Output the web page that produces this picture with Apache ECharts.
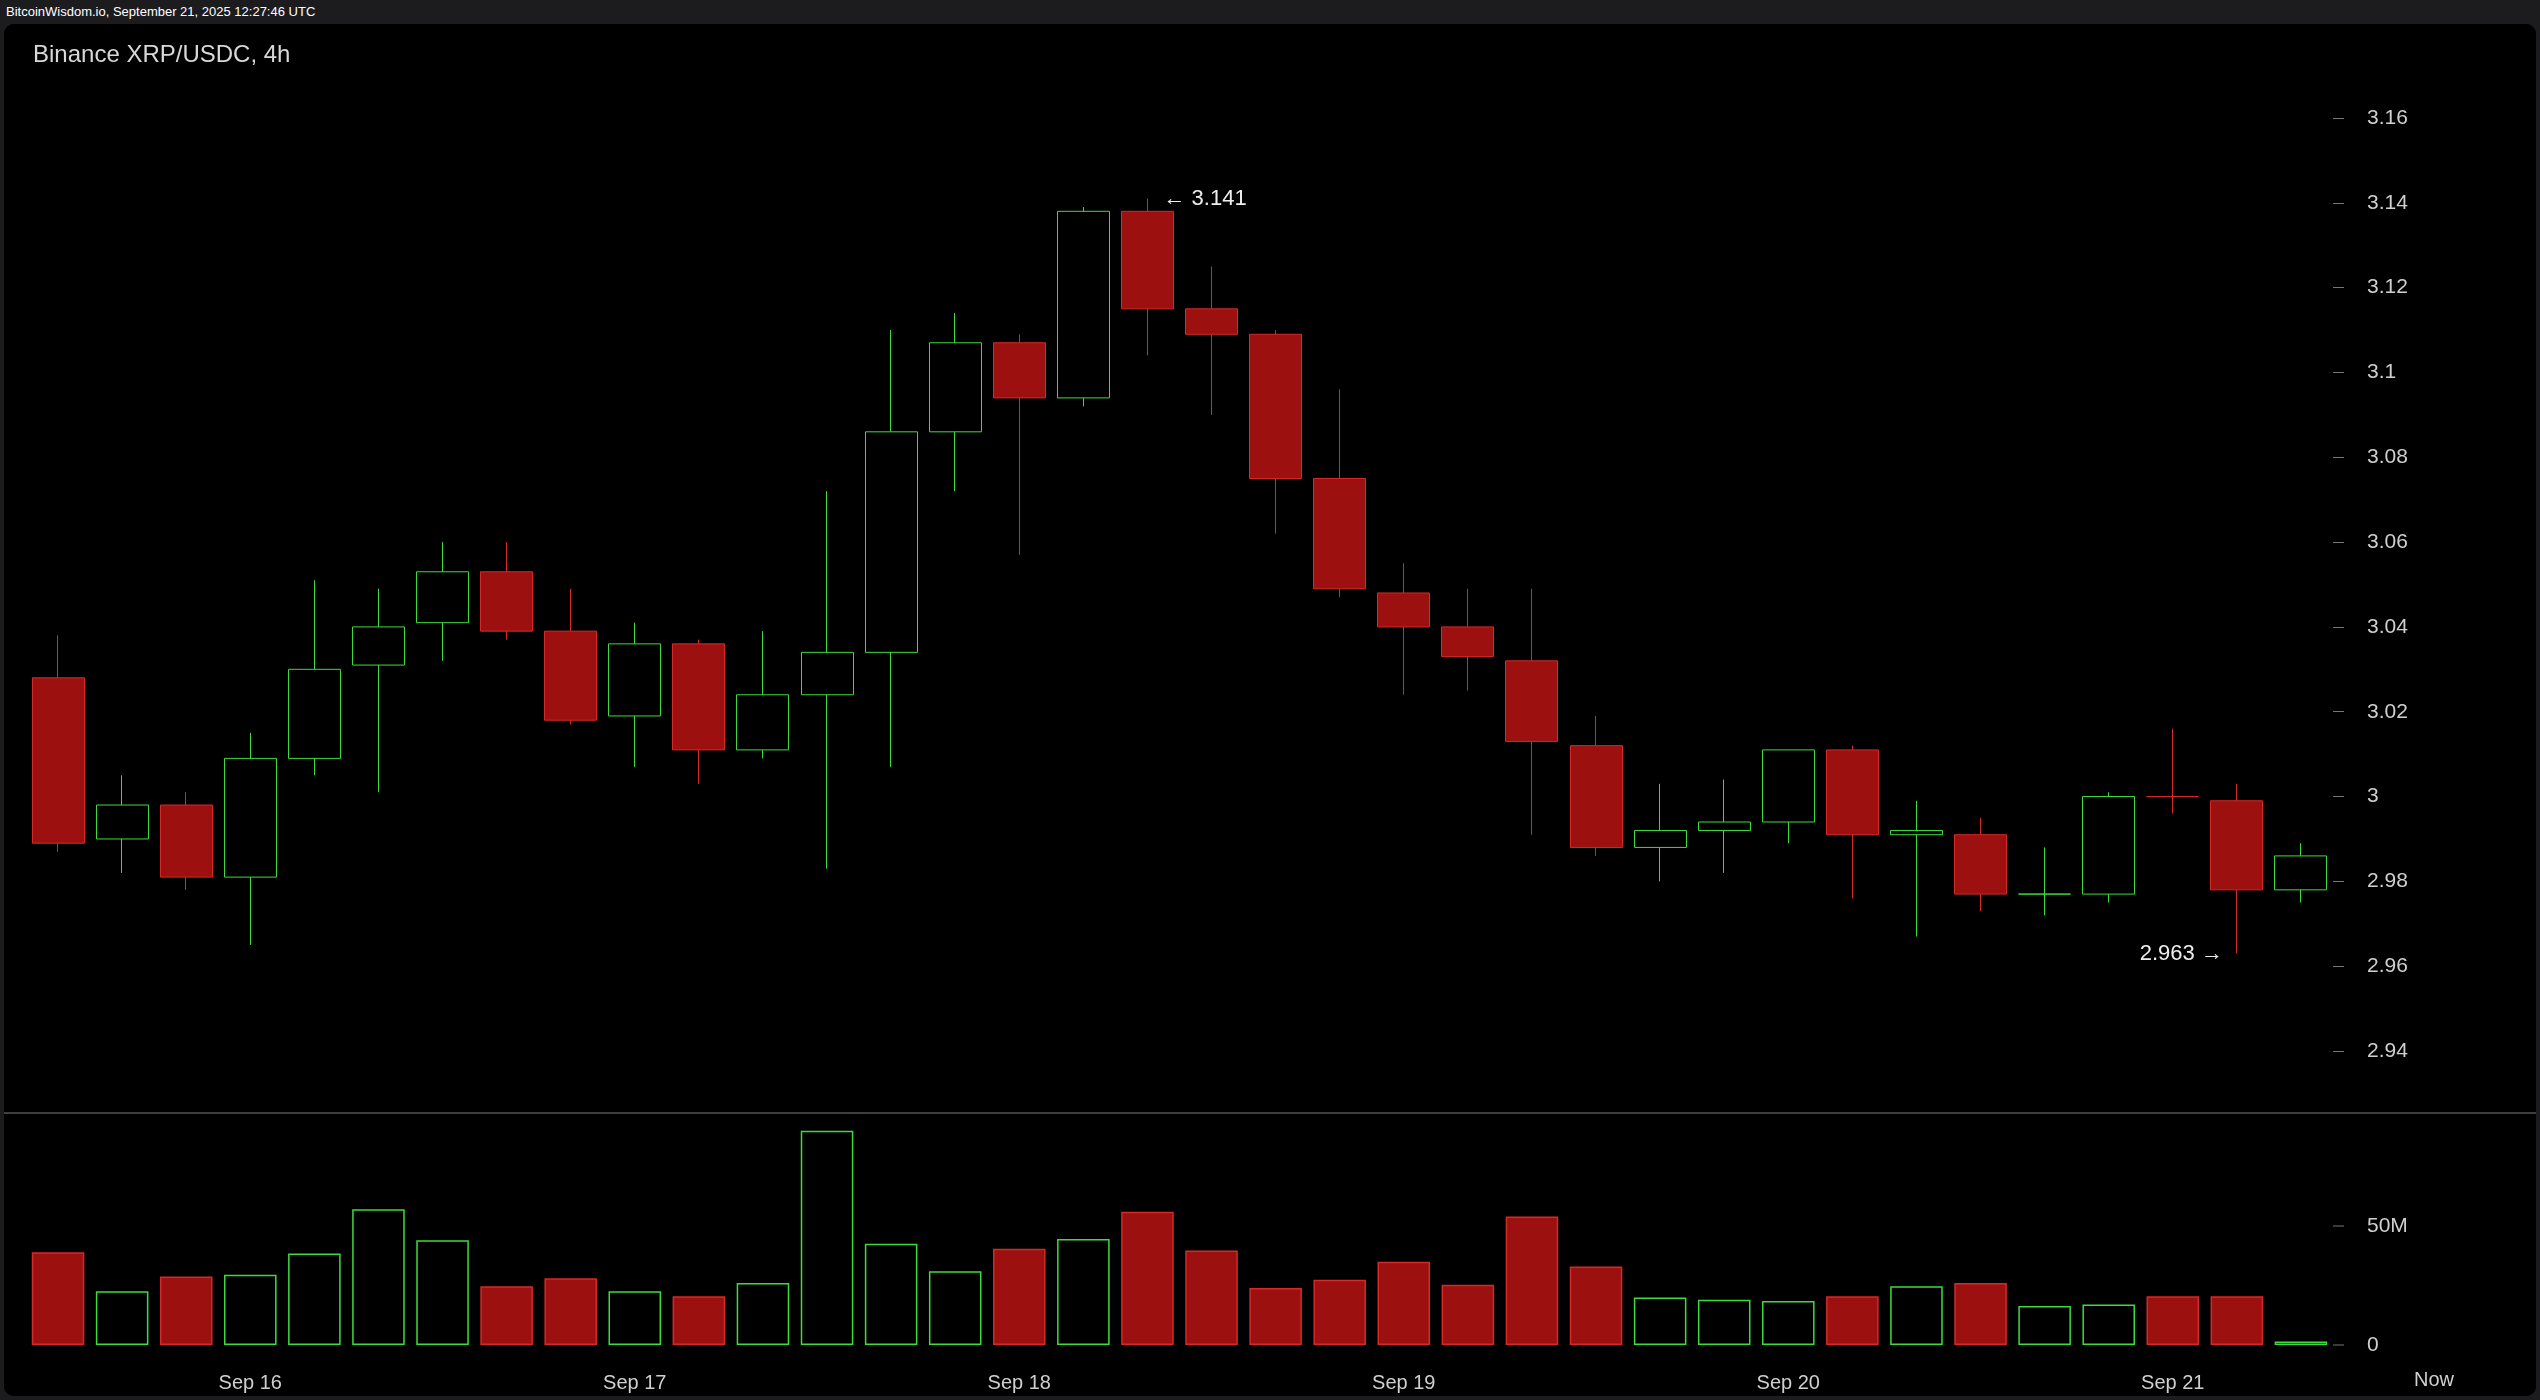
<!DOCTYPE html>
<html><head><meta charset="utf-8">
<script src="https://cdn.jsdelivr.net/npm/echarts@6/dist/echarts.min.js"></script>
<style>
html,body{margin:0;padding:0;background:#1c1c1e;width:2540px;height:1400px;overflow:hidden;font-family:"Liberation Sans",Arial,sans-serif}
#top{position:absolute;left:6px;top:4px;color:#fff;font-size:13px}
#c{position:absolute;left:4px;top:24px;width:2532px;height:1372px;background:#000;border-radius:10px;overflow:hidden}
</style></head><body>
<div id="top">BitcoinWisdom.io, September 21, 2025 12:27:46 UTC</div>
<div id="c"></div>
<script>
const categories = ['09-15 12:00','09-15 16:00','09-15 20:00','09-16 00:00','09-16 04:00','09-16 08:00','09-16 12:00','09-16 16:00','09-16 20:00','09-17 00:00','09-17 04:00','09-17 08:00','09-17 12:00','09-17 16:00','09-17 20:00','09-18 00:00','09-18 04:00','09-18 08:00','09-18 12:00','09-18 16:00','09-18 20:00','09-19 00:00','09-19 04:00','09-19 08:00','09-19 12:00','09-19 16:00','09-19 20:00','09-20 00:00','09-20 04:00','09-20 08:00','09-20 12:00','09-20 16:00','09-20 20:00','09-21 00:00','09-21 04:00','09-21 08:00'];
const dayLabels = {3:'Sep 16',9:'Sep 17',15:'Sep 18',21:'Sep 19',27:'Sep 20',33:'Sep 21'};
const openP  = [3.028,2.990,2.998,2.981,3.009,3.031,3.041,3.053,3.039,3.019,3.036,3.011,3.024,3.034,3.086,3.107,3.094,3.138,3.115,3.109,3.075,3.048,3.040,3.032,3.012,2.988,2.992,2.994,3.011,2.991,2.991,2.977,2.977,3.000,2.999,2.978];
const highP  = [3.038,3.005,3.001,3.015,3.051,3.049,3.060,3.060,3.049,3.041,3.037,3.039,3.072,3.110,3.114,3.109,3.139,3.141,3.125,3.110,3.096,3.055,3.049,3.049,3.019,3.003,3.004,3.011,3.012,2.999,2.995,2.988,3.001,3.016,3.003,2.989];
const lowP   = [2.987,2.982,2.978,2.965,3.005,3.001,3.032,3.037,3.017,3.007,3.003,3.009,2.983,3.007,3.072,3.057,3.092,3.104,3.090,3.062,3.047,3.024,3.025,2.991,2.986,2.980,2.982,2.989,2.976,2.967,2.973,2.972,2.975,2.996,2.963,2.975];
const closeP = [2.989,2.998,2.981,3.009,3.030,3.040,3.053,3.039,3.018,3.036,3.011,3.024,3.034,3.086,3.107,3.094,3.138,3.115,3.109,3.075,3.049,3.040,3.033,3.013,2.988,2.992,2.994,3.011,2.991,2.992,2.977,2.977,3.000,3.000,2.978,2.986];
const volumeM = [39,22.6,28.8,29.5,38.4,57,44,24.7,28,22.6,20.5,26,90,42.5,31,40.4,44.5,56,39.7,24,27.4,35,25.3,54,33,20,19,18.5,20.5,24.7,26,16.4,17,20.5,20.5,1.5];
const priceTicks = {min:2.94,max:3.16,step:0.02};
const highMark = {idx:17,val:3.141};
const lowMark = {idx:34,val:2.963};

const RED='#9c1010', REDB='#d42a2a', GRN='#000', GRNB='#3ddc3d';
const kdata = openP.map((o,i)=>[o,closeP[i],lowP[i],highP[i]]);
const isUp = i => closeP[i] > openP[i] || (closeP[i]===openP[i] && (i===0 || closeP[i]>=closeP[i-1]) && i!==33);
const vol = volumeM.map((v,i)=>({value:v*1e6,itemStyle:{color:isUp(i)?GRN:RED,borderColor:isUp(i)?GRNB:REDB,borderWidth:1.5}}));
const kItems = kdata.map((d,i)=>({value:d,itemStyle:isUp(i)?{color:GRN,color0:GRN,borderColor:GRNB,borderColor0:GRNB}:{color:RED,color0:RED,borderColor:REDB,borderColor0:REDB}}));

const chart = echarts.init(document.getElementById('c'));
const txt = '#cfcfcf';
chart.setOption({
  backgroundColor:'#000',
  animation:false,
  title:{text:'Binance XRP/USDC, 4h',left:24,top:14,textStyle:{color:'#d8d8d8',fontSize:24,fontWeight:'normal',fontFamily:'Liberation Sans'}},
  grid:[{left:22,right:203,top:94,height:933},{left:22,right:203,top:1083,height:238}],
  xAxis:[
    {type:'category',data:categories,gridIndex:0,boundaryGap:true,axisLine:{show:false},axisTick:{show:false},axisLabel:{show:false},splitLine:{show:false}},
    {type:'category',data:categories,gridIndex:1,boundaryGap:true,axisLine:{show:false},axisTick:{show:false},splitLine:{show:false},
     axisLabel:{color:txt,fontSize:20,margin:28,interval:0,formatter:(v,i)=>dayLabels[i]||''}}
  ],
  yAxis:[
    {type:'value',gridIndex:0,position:'right',min:priceTicks.min,max:priceTicks.max,interval:priceTicks.step,
     axisLine:{show:false},axisTick:{show:true,length:11,lineStyle:{color:'#777'}},splitLine:{show:false},
     axisLabel:{color:txt,fontSize:21,margin:34}},
    {type:'value',gridIndex:1,position:'right',min:0,max:100e6,interval:50e6,
     axisLine:{show:false},axisTick:{show:false},splitLine:{show:false},
     axisLabel:{color:txt,fontSize:21,margin:34,formatter:v=>v===0?'0':(v===50e6?'50M':'')}}
  ],
  series:[
    {type:'candlestick',xAxisIndex:0,yAxisIndex:0,data:kItems,barWidth:'82%',
     markPoint:{symbolSize:0,silent:true,data:[
       {coord:[highMark.idx,highMark.val],label:{show:true,position:'right',distance:16,formatter:'← '+highMark.val,color:'#eee',fontSize:22}},
       {coord:[lowMark.idx,lowMark.val],label:{show:true,position:'left',distance:14,formatter:lowMark.val+' →',color:'#eee',fontSize:22}}
     ]}},
    {type:'bar',xAxisIndex:1,yAxisIndex:1,data:vol,barWidth:'82%',
     markLine:{symbol:'none',silent:true,label:{show:false},lineStyle:{color:'#777',type:'solid',width:1},data:[]}}
  ],
  graphic:[
    {type:'line',shape:{x1:0,y1:1089,x2:2532,y2:1089},style:{stroke:'#555',lineWidth:1.5}},
    {type:'line',shape:{x1:2329,y1:1202,x2:2340,y2:1202},style:{stroke:'#777',lineWidth:1}},
    {type:'line',shape:{x1:2329,y1:1321,x2:2340,y2:1321},style:{stroke:'#777',lineWidth:1}},
    {type:'text',left:2410,top:1346,style:{text:'Now',fill:txt,fontSize:20,fontFamily:'Liberation Sans'}}
  ]
});
</script>
</body></html>
